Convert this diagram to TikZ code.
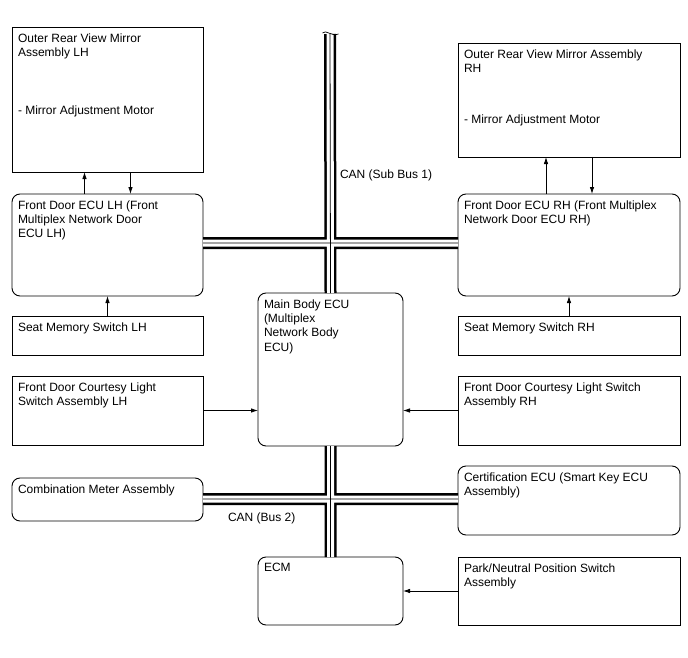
\documentclass[tikz,border=0pt]{standalone}
\usepackage{fontspec}
\setmainfont{Liberation Sans}
\usetikzlibrary{arrows.meta,calc}

\begin{document}
\begin{tikzpicture}[
  x=1pt, y=-1pt,
  every node/.style={inner sep=0pt, outer sep=0pt},
  box/.style={draw, line width=0.9pt, fill=white, anchor=north west},
  ecu/.style={box, rounded corners=8pt},
  txt/.style={anchor=north west, align=left, font=\fontsize{12}{14.3}\selectfont},
  sig/.style={line width=0.8pt, -{Latex[length=7pt,width=4.5pt]}},
  bus/.style={line width=2.5pt, double, double distance=7pt},
  ]
  \useasboundingbox[fill=white] (0,0) rectangle (688,658);

  % left column
  \node[box, minimum width=191pt, minimum height=145pt] (mirLH) at (12,27) {};
  \node[ecu, minimum width=191pt, minimum height=102pt] (fdLH) at (12,194) {};
  \node[box, minimum width=191pt, minimum height=39pt] (seatLH) at (12,316) {};
  \node[box, minimum width=191pt, minimum height=69pt] (courtLH) at (12,376) {};
  \node[ecu, minimum width=191pt, minimum height=43pt] (meter) at (12,478) {};

  % middle
  \node[ecu, minimum width=145pt, minimum height=153pt] (main) at (258,293) {};
  \node[ecu, minimum width=145pt, minimum height=68pt] (ecm) at (258,557) {};

  % right column
  \node[box, minimum width=222pt, minimum height=114pt] (mirRH) at (458,43) {};
  \node[ecu, minimum width=222pt, minimum height=102pt] (fdRH) at (458,194) {};
  \node[box, minimum width=222pt, minimum height=39pt] (seatRH) at (458,316) {};
  \node[box, minimum width=222pt, minimum height=69pt] (courtRH) at (458,376) {};
  \node[ecu, minimum width=222pt, minimum height=69pt] (cert) at (458,466) {};
  \node[box, minimum width=222pt, minimum height=68pt] (pns) at (458,557) {};

  % texts
  \node[txt] (mirLH-t) at ([shift={(6pt,-6.5pt)}]mirLH.north west) {Outer Rear View Mirror\\Assembly LH\\[43.5pt]- Mirror Adjustment Motor};
  \node[txt] (fdLH-t) at ([shift={(6pt,-6.5pt)}]fdLH.north west) {Front Door ECU LH (Front\\Multiplex Network Door\\ECU LH)};
  \node[txt] (seatLH-t) at ([shift={(6pt,-6.5pt)}]seatLH.north west) {Seat Memory Switch LH};
  \node[txt] (courtLH-t) at ([shift={(6pt,-6.5pt)}]courtLH.north west) {Front Door Courtesy Light\\Switch Assembly LH};
  \node[txt] (meter-t) at ([shift={(6pt,-6.5pt)}]meter.north west) {Combination Meter Assembly};
  \node[txt] (main-t) at ([shift={(6pt,-6.5pt)}]main.north west) {Main Body ECU\\(Multiplex\\Network Body\\ECU)};
  \node[txt] (ecm-t) at ([shift={(6pt,-6.5pt)}]ecm.north west) {ECM};
  \node[txt] (mirRH-t) at ([shift={(6pt,-6.5pt)}]mirRH.north west) {Outer Rear View Mirror Assembly\\RH\\[36.7pt]- Mirror Adjustment Motor};
  \node[txt] (fdRH-t) at ([shift={(6pt,-6.5pt)}]fdRH.north west) {Front Door ECU RH (Front Multiplex\\Network Door ECU RH)};
  \node[txt] (seatRH-t) at ([shift={(6pt,-6.5pt)}]seatRH.north west) {Seat Memory Switch RH};
  \node[txt] (courtRH-t) at ([shift={(6pt,-6.5pt)}]courtRH.north west) {Front Door Courtesy Light Switch\\Assembly RH};
  \node[txt] (cert-t) at ([shift={(6pt,-6.5pt)}]cert.north west) {Certification ECU (Smart Key ECU\\Assembly)};
  \node[txt] (pns-t) at ([shift={(6pt,-6.5pt)}]pns.north west) {Park/Neutral Position Switch\\Assembly};

  % CAN buses
  \coordinate (busTop) at (330,34);
  \coordinate (crossA) at (330,243);
  \coordinate (crossB) at (330,499);
  \draw[bus] (busTop) -- (main.north) (main.south) -- (ecm.north)
    (fdLH.east |- crossA) -- (fdRH.west |- crossA)
    (meter.east |- crossB) -- (cert.west |- crossB);
  \draw[line width=0.8pt] (busTop) -- (main.north) (main.south) -- (ecm.north)
    (fdLH.east |- crossA) -- (fdRH.west |- crossA)
    (meter.east |- crossB) -- (cert.west |- crossB);
  \draw[line width=0.7pt] (322.5,33) .. controls (326,29) and (331,37) .. (338.5,34);
  \node[txt] (canSub) at (340,170) {CAN (Sub Bus 1)};
  \node[txt] (canB2) at (228,513) {CAN (Bus 2)};

  % signal lines
  \draw[sig] ([xshift=-23pt]fdLH.north) -- ([xshift=-23pt]mirLH.south);
  \draw[sig] ([xshift=23pt]mirLH.south) -- ([xshift=23pt]fdLH.north);
  \draw[sig] ([xshift=-23pt]fdRH.north) -- ([xshift=-23pt]mirRH.south);
  \draw[sig] ([xshift=23pt]mirRH.south) -- ([xshift=23pt]fdRH.north);
  \draw[sig] (seatLH.north) -- (fdLH.south);
  \draw[sig] (seatRH.north) -- (fdRH.south);
  \draw[sig] (courtLH.east) -- (courtLH.east -| main.west);
  \draw[sig] (courtRH.west) -- (courtRH.west -| main.east);
  \draw[sig] (pns.west) -- (pns.west -| ecm.east);
\end{tikzpicture}
\end{document}
